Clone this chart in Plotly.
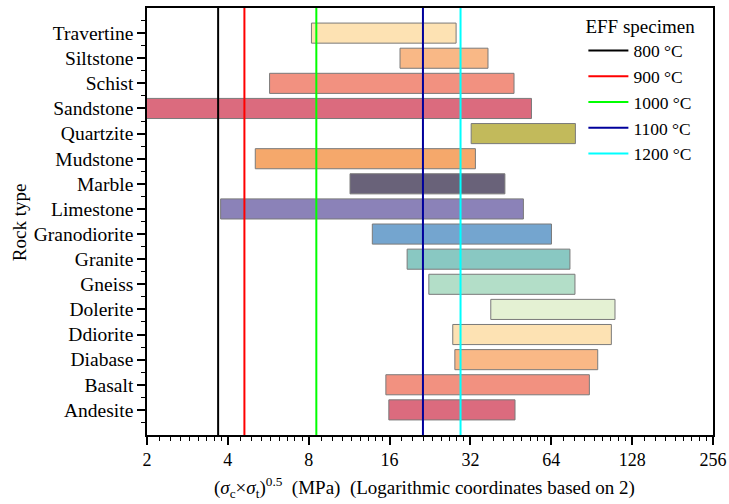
import math
import plotly.graph_objects as go

# ---------------- data ----------------
rock_types = ["Andesite", "Basalt", "Diabase", "Ddiorite", "Dolerite", "Gneiss", "Granite",
              "Granodiorite", "Limestone", "Marble", "Mudstone", "Quartzite", "Sandstone",
              "Schist", "Siltstone", "Travertine"]
range_low = [15.9, 15.5, 28.0, 27.5, 38.1, 22.4, 18.6, 13.8, 3.76, 11.4, 5.06, 32.2, 1.8,
             5.72, 17.5, 8.19]
range_high = [46.9, 88.7, 95.3, 107.1, 110.5, 78.4, 75.1, 64.1, 50.4, 43.0, 33.4, 78.7, 54.0,
              46.5, 37.2, 28.3]
bar_colors = ["#DB6B7E", "#F29180", "#F9B886", "#FDE2B3", "#E4F1D3", "#B3DEC8", "#89C8C2",
              "#74A5CF", "#8B82B8", "#696279", "#F5A86B", "#C2BA5B", "#DB6B7E", "#F29180",
              "#F9B886", "#FDE2B3"]

specimen_labels = ["800 °C", "900 °C", "1000 °C", "1100 °C", "1200 °C"]
specimen_values = [3.68, 4.61, 8.54, 21.3, 29.4]
specimen_colors = ["#000000", "#FF0000", "#00FF00", "#00009C", "#00FFFF"]

x_tick_values = [2, 4, 8, 16, 32, 64, 128, 256]
x_tick_labels = ["2", "4", "8", "16", "32", "64", "128", "256"]

FONT = "Liberation Serif"

fig = go.Figure()

idx = list(range(len(rock_types)))
fig.add_trace(go.Bar(
    y=idx,
    x=[h - l for l, h in zip(range_low, range_high)],
    base=range_low,
    orientation="h",
    width=0.8,
    marker=dict(color=bar_colors, line=dict(color="#7A7A7A", width=1)),
    showlegend=False,
    hoverinfo="skip",
))

for lab, val, col in zip(specimen_labels, specimen_values, specimen_colors):
    fig.add_trace(go.Scatter(
        x=[val, val], y=[-1, 16], mode="lines",
        line=dict(color=col, width=2), name=lab,
    ))

# minor ticks: 8 evenly spaced (in value) between each octave
minor_x = []
for a in x_tick_values[:-1]:
    for j in range(1, 9):
        minor_x.append(a * (1 + j / 9))

fig.update_layout(
    width=729, height=504,
    margin=dict(l=147, r=16, t=8, b=69, autoexpand=False),
    plot_bgcolor="white", paper_bgcolor="white",
    font=dict(family=FONT, size=19, color="black"),
    bargap=0.2,
    legend=dict(
        title=dict(text="EFF specimen", font=dict(size=19)),
        x=0.771, y=1.0, xanchor="left", yanchor="top",
        bgcolor="rgba(0,0,0,0)", borderwidth=0,
        font=dict(size=17.5), itemwidth=40, tracegroupgap=0,
    ),
    showlegend=True,
    annotations=[
        dict(text="(<i>σ</i><sub>c</sub>×<i>σ</i><sub>t</sub>)<sup>0.5</sup>&nbsp;&nbsp;(MPa)&nbsp;&nbsp;(Logarithmic coordinates based on 2)",
             xref="paper", yref="paper", x=0.491, y=-0.124, xanchor="center", yanchor="middle",
             showarrow=False, font=dict(size=19)),
        dict(text="Rock type", xref="paper", yref="paper", x=-0.224, y=0.499,
             xanchor="center", yanchor="middle", textangle=-90,
             showarrow=False, font=dict(size=19)),
    ],
)

fig.update_xaxes(
    type="log",
    range=[math.log10(2), math.log10(256)],
    tickmode="array", tickvals=x_tick_values, ticktext=x_tick_labels,
    tickfont=dict(size=18),
    ticks="outside", ticklen=8, tickwidth=1.5, tickcolor="black",
    minor=dict(tickmode="array", tickvals=minor_x, ticks="outside", ticklen=4,
               tickwidth=1, tickcolor="black", showgrid=False),
    showline=True, linecolor="black", linewidth=1.5, mirror=True,
    showgrid=False, zeroline=False, automargin=False,
)

fig.update_yaxes(
    range=[-1, 16],
    tickmode="array", tickvals=idx, ticktext=rock_types,
    tickfont=dict(size=19.5),
    ticks="outside", ticklen=8, tickwidth=1.5, tickcolor="black",
    minor=dict(tickmode="array", tickvals=[i - 0.5 for i in range(17)], ticks="outside",
               ticklen=4, tickwidth=1, tickcolor="black", showgrid=False),
    showline=True, linecolor="black", linewidth=1.5, mirror=True,
    showgrid=False, zeroline=False, automargin=False,
)

fig.write_html("out.html", config={"displayModeBar": False},
               post_script="document.body.style.margin='0px';")
